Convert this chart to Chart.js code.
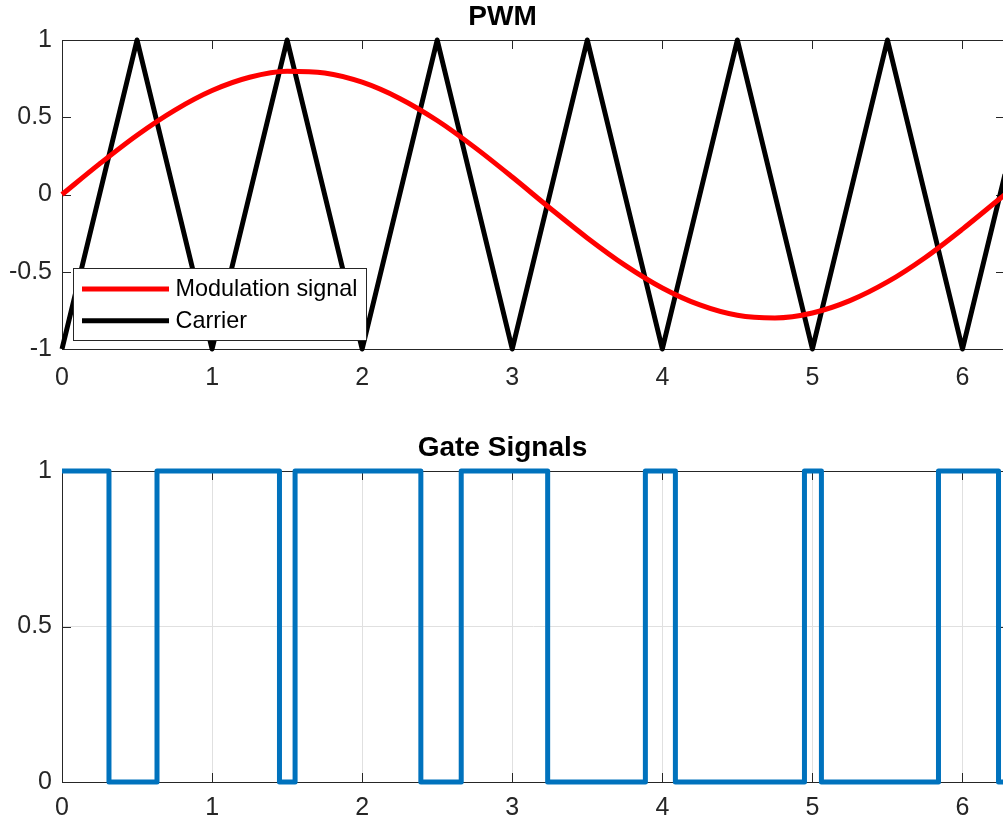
<!DOCTYPE html>
<html>
<head>
<meta charset="utf-8">
<title>PWM</title>
<script src="https://cdn.jsdelivr.net/npm/chart.js@4/dist/chart.umd.min.js"></script>
<style>
  html, body { margin: 0; padding: 0; background: #fff; overflow: hidden; }
  .box { position: absolute; left: 0; width: 1005px; }
  #top { top: 0; height: 400px; }
  #bottom { top: 400px; height: 427px; }
</style>
</head>
<body>
<div class="box" id="top"><canvas id="pwm"></canvas></div>
<div class="box" id="bottom"><canvas id="gate"></canvas></div>
<script>
// modulation signal
const modX = [0, 0.25, 0.5, 0.75, 1, 1.25, 1.5, 1.75, 2, 2.25, 2.5, 2.75, 3, 3.25, 3.5,
  3.75, 4, 4.25, 4.5, 4.75, 5, 5.25, 5.5, 5.75, 6, 6.25, 6.2832];
const modY = [0, 0.198, 0.384, 0.545, 0.673, 0.759, 0.798, 0.787, 0.727, 0.622, 0.479,
  0.305, 0.113, -0.087, -0.281, -0.457, -0.605, -0.715, -0.782, -0.799, -0.767, -0.687,
  -0.566, -0.409, -0.224, -0.026, 0];

// triangle carrier corners
const carrierX = [0, 0.5, 1, 1.5, 2, 2.5, 3, 3.5, 4, 4.5, 5, 5.5, 6, 6.2832];
const carrierY = [-1, 1, -1, 1, -1, 1, -1, 1, -1, 1, -1, 1, -1, 0.13];

// gate switching instants and the level after each one
const gateX = [0, 0.313, 0.633, 1.449, 1.553, 2.391, 2.66, 3.236, 3.887, 4.087, 4.947,
  5.06, 5.84, 6.24, 6.2832];
const gateY = [1, 0, 1, 0, 1, 0, 1, 0, 1, 0, 1, 0, 1, 0, 0];

const xMax = 6.2832;
const axisColor = "#262626";
const font = "'Liberation Sans', Arial, Helvetica, sans-serif";

const toPoints = (xs, ys) => xs.map((x, i) => ({ x: x, y: ys[i] }));

// matlab style box with inward ticks on all four sides
const boxPlugin = {
  id: "box",
  beforeDatasetsDraw(chart) {
    const { ctx, chartArea: a, scales } = chart;
    const len = 9;
    ctx.save();
    ctx.strokeStyle = axisColor;
    ctx.lineWidth = 1;
    ctx.strokeRect(Math.round(a.left) + 0.5, Math.round(a.top) + 0.5,
      Math.round(a.right - a.left), Math.round(a.bottom - a.top));
    ctx.beginPath();
    scales.x.ticks.forEach((t) => {
      const px = Math.round(scales.x.getPixelForValue(t.value)) + 0.5;
      ctx.moveTo(px, a.bottom);
      ctx.lineTo(px, a.bottom - len);
      ctx.moveTo(px, a.top);
      ctx.lineTo(px, a.top + len);
    });
    scales.y.ticks.forEach((t) => {
      const py = Math.round(scales.y.getPixelForValue(t.value)) + 0.5;
      ctx.moveTo(a.left, py);
      ctx.lineTo(a.left + len, py);
      ctx.moveTo(a.right, py);
      ctx.lineTo(a.right - len, py);
    });
    ctx.stroke();
    ctx.restore();
  },
};

// legend box in the lower left corner of the plot
const legendPlugin = {
  id: "boxLegend",
  afterDatasetsDraw(chart) {
    const { ctx, chartArea: a } = chart;
    const left = a.left + 11.5;
    const bottom = a.bottom - 8.5;
    const w = 293;
    const h = 72;
    const top = bottom - h;
    ctx.save();
    ctx.fillStyle = "#fff";
    ctx.fillRect(left, top, w, h);
    ctx.strokeStyle = axisColor;
    ctx.lineWidth = 1;
    ctx.strokeRect(left, top, w, h);
    chart.data.datasets.forEach((ds, i) => {
      const y = top + 20.5 + i * 31.7;
      ctx.strokeStyle = ds.borderColor;
      ctx.lineWidth = 5;
      ctx.beginPath();
      ctx.moveTo(left + 8.5, y);
      ctx.lineTo(left + 95.5, y);
      ctx.stroke();
      ctx.fillStyle = "#000";
      ctx.font = "23.4px " + font;
      ctx.textBaseline = "middle";
      ctx.fillText(ds.label, left + 102, y + 1);
    });
    ctx.restore();
  },
};

function axes(yMin, yMax, yStep, showGrid, xHeight, xPad) {
  return {
    x: {
      type: "linear",
      min: 0,
      max: xMax,
      afterFit: (s) => { s.height = xHeight; },
      grid: { display: showGrid, color: "#e0e0e0", drawTicks: false },
      border: { display: false },
      ticks: {
        stepSize: 1,
        includeBounds: false,
        maxRotation: 0,
        padding: xPad,
        color: axisColor,
        font: { size: 25, family: font },
      },
    },
    y: {
      min: yMin,
      max: yMax,
      afterFit: (s) => { s.width = 62; },
      grid: { display: showGrid, color: "#e0e0e0", drawTicks: false },
      border: { display: false },
      ticks: {
        stepSize: yStep,
        padding: 10,
        color: axisColor,
        font: { size: 25, family: font },
        callback: (v) => String(v),
      },
    },
  };
}

new Chart(document.getElementById("pwm").getContext("2d"), {
  type: "line",
  data: {
    datasets: [
      {
        label: "Modulation signal",
        data: toPoints(modX, modY),
        borderColor: "#ff0000",
        borderWidth: 5,
        pointRadius: 0,
        cubicInterpolationMode: "monotone",
        clip: false,
      },
      {
        label: "Carrier",
        data: toPoints(carrierX, carrierY),
        borderColor: "#000000",
        borderWidth: 5,
        pointRadius: 0,
        tension: 0,
        borderJoinStyle: "round",
        clip: false,
      },
    ],
  },
  options: {
    responsive: true,
    maintainAspectRatio: false,
    animation: false,
    layout: { padding: 0 },
    scales: axes(-1, 1, 0.5, false, 51, 14),
    plugins: {
      legend: { display: false },
      tooltip: { enabled: false },
      title: {
        display: true,
        text: "PWM",
        color: "#000",
        font: { size: 28, weight: "bold", family: font },
        padding: { top: 0.5, bottom: 5.9 },
      },
    },
  },
  plugins: [boxPlugin, legendPlugin],
});

new Chart(document.getElementById("gate").getContext("2d"), {
  type: "line",
  data: {
    datasets: [
      {
        label: "Gate",
        data: toPoints(gateX, gateY),
        borderColor: "#0072bd",
        borderWidth: 5,
        pointRadius: 0,
        stepped: true,
        borderJoinStyle: "round",
        clip: false,
      },
    ],
  },
  options: {
    responsive: true,
    maintainAspectRatio: false,
    animation: false,
    layout: { padding: 0 },
    scales: axes(0, 1, 0.5, true, 45, 11),
    plugins: {
      legend: { display: false },
      tooltip: { enabled: false },
      title: {
        display: true,
        text: "Gate Signals",
        color: "#000",
        font: { size: 28, weight: "bold", family: font },
        padding: { top: 31.5, bottom: 5.9 },
      },
    },
  },
  plugins: [boxPlugin],
});
</script>
</body>
</html>
